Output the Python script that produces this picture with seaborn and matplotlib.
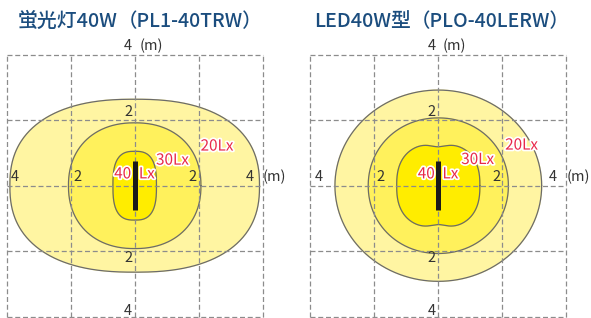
import numpy as np
import matplotlib
matplotlib.use("Agg")
import matplotlib.pyplot as plt
import matplotlib.patheffects as pe
import seaborn as sns

# ---------------- data ----------------
titles_main = ["蛍光灯40W", "LED40W型"]
titles_sub = ["（PL1-40TRW）", "（PLO-40LERW）"]

lux_levels = [20, 30, 40]
lux_labels = ["20Lx", "30Lx", "40 Lx"]

# iso-lux contours (metres): half width, half height, superellipse exponent, top/bottom notch depth
fl_half_width = [3.90, 2.07, 0.68]
fl_half_height = [2.64, 1.92, 1.05]
fl_exponent = [2.4, 2.2, 2.8]
fl_notch = [0.0, 0.0, 0.0]

led_half_width = [3.23, 2.19, 1.30]
led_half_height = [2.92, 2.07, 1.29]
led_exponent = [2.0, 2.05, 2.5]
led_notch = [0.0, 0.0, 0.08]

lamp_half_length = 0.75
grid_ticks = [-4, -2, 0, 2, 4]
axis_tick_labels = ["4", "2", "2", "4"]
unit_label = "(m)"

# ---------------- style ----------------
sns.set_style("white")
plt.rcParams["font.family"] = ["Noto Sans CJK JP", "DejaVu Sans"]

fill_colors = {20: "#FFF5A2", 30: "#FFF15C", 40: "#FFED00"}
edge_color = "#6b6b6b"
grid_color = "#8c8c8c"
lux_color = "#E8294A"
title_color = "#1B4D7E"
text_color = "#333333"

W, H = 591, 318
fig = plt.figure(figsize=(W / 100, H / 100), dpi=100)

panels = [
    dict(cx=134.7, cy=185.7, left=0, right=295, title_x=18,
         hw=fl_half_width, hh=fl_half_height, ex=fl_exponent, nt=fl_notch),
    dict(cx=438.3, cy=185.7, left=295, right=591, title_x=314,
         hw=led_half_width, hh=led_half_height, ex=led_exponent, nt=led_notch),
]
sx, sy = 32.0, 32.75  # px per metre

label_pos = [
    {20: (2.57, 1.21), 30: (1.18, 0.78), 40: (0.0, 0.36)},
    {20: (2.60, 1.24), 30: (1.23, 0.80), 40: (0.0, 0.36)},
]


def contour(a, b, n, notch):
    t = np.linspace(0, 2 * np.pi, 721)
    c, s = np.cos(t), np.sin(t)
    r = 1.0 / (np.abs(c / a) ** n + np.abs(s / b) ** n) ** (1.0 / n)
    if notch:
        d = lambda th: np.angle(np.exp(1j * (t - th)))
        r = r * (1 - notch * np.exp(-(d(np.pi / 2) / 0.28) ** 2)
                 - notch * np.exp(-(d(-np.pi / 2) / 0.28) ** 2))
    return r * c, r * s


stroke = [pe.withStroke(linewidth=2.5, foreground="white")]

for i, p in enumerate(panels):
    ax = fig.add_axes([p["left"] / W, 0, (p["right"] - p["left"]) / W, 1])
    ax.set_xlim((p["left"] - p["cx"]) / sx, (p["right"] - p["cx"]) / sx)
    ax.set_ylim((p["cy"] - H) / sy, p["cy"] / sy)
    ax.axis("off")

    for k, lv in enumerate(lux_levels):
        x, y = contour(p["hw"][k], p["hh"][k], p["ex"][k], p["nt"][k])
        ax.fill(x, y, color=fill_colors[lv], zorder=1 + k)
        sns.lineplot(x=x, y=y, sort=False, estimator=None, ax=ax,
                     color=edge_color, lw=0.9, zorder=1 + k)

    # dashed grid
    for g in grid_ticks:
        ax.plot([g, g], [grid_ticks[0], grid_ticks[-1]], color=grid_color,
                lw=0.9, ls=(0, (4, 2.2)), zorder=5)
        ax.plot([grid_ticks[0], grid_ticks[-1]], [g, g], color=grid_color,
                lw=0.9, ls=(0, (4, 2.2)), zorder=5)

    # axis labels
    fs = 10.5
    kw = dict(va="center", fontsize=fs, color=text_color, zorder=7)
    ax.text(-0.2, 4.27, "4", ha="center", **kw)
    ax.text(0.15, 4.27, unit_label, ha="left", **kw)
    ax.text(-0.2, 2.25, "2", ha="center", **kw)
    ax.text(-0.2, -2.22, "2", ha="center", **kw)
    ax.text(-0.2, -3.83, "4", ha="center", **kw)
    for xv, lab in zip([-3.74, -1.8, 1.81, 3.59], axis_tick_labels):
        ax.text(xv, 0.27, lab, ha="center", **kw)
    ax.text(4.0, 0.27, unit_label, ha="left", **kw)

    # lux labels
    lkw = dict(va="center", fontsize=11, color=lux_color,
               path_effects=stroke, zorder=8)
    for k, lv in enumerate(lux_levels):
        lx, ly = label_pos[i][lv]
        parts = lux_labels[k].split(" ")
        if len(parts) == 2:
            ax.text(lx - 0.11, ly, parts[0], ha="right", **lkw)
            ax.text(lx + 0.13, ly, parts[1], ha="left", **lkw)
        else:
            ax.text(lx, ly, lux_labels[k], ha="center", **lkw)

    # lamp
    ax.plot([0, 0], [-lamp_half_length, lamp_half_length], color="#1a1a1a",
            lw=3.6, solid_capstyle="butt", zorder=9)

    # title
    t1 = ax.text((p["title_x"] - p["cx"]) / sx, (p["cy"] - 27) / sy,
                 titles_main[i], ha="left", va="baseline", fontsize=14.3,
                 fontweight="medium", color=title_color, zorder=10)
    ax.annotate(titles_sub[i], xy=(1, 0), xycoords=t1, xytext=(0, 0),
                textcoords="offset points", ha="left", va="bottom",
                fontsize=14, fontweight="medium", color=title_color, zorder=10)

fig.savefig("out.png", dpi=100)
